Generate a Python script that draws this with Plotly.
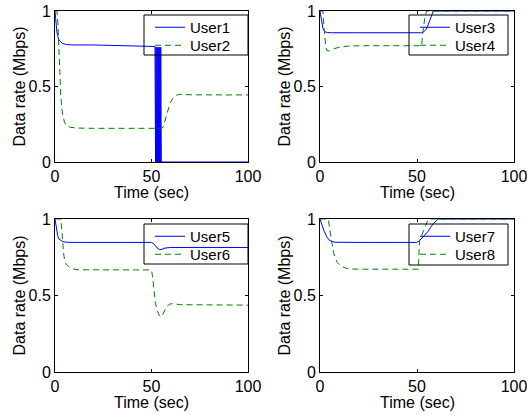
import plotly.graph_objects as go

W, H = 527, 415

# ---- data (time in sec, rate in Mbps) ----
t_user1 = [0, 0.5, 1, 1.5, 2, 3, 4, 6, 9, 20, 51.6, 51.8, 52.1, 52.3, 52.6, 52.8, 53.1, 53.3,
           53.6, 53.8, 54.1, 54.3, 54.6, 54.8, 55.1, 55.4, 60, 100]
u_user1 = [1.0, 0.92, 0.86, 0.83, 0.81, 0.795, 0.785, 0.778, 0.775, 0.775, 0.765, 0.765, 0.0, 0.76,
           0.0, 0.76, 0.0, 0.76, 0.0, 0.76, 0.0, 0.76, 0.0, 0.76, 0.0, 0.0, 0.0, 0.0]

t_user2 = [0, 1, 1.5, 2, 2.5, 3, 3.5, 4, 5, 6, 8, 11, 20, 55, 56, 57, 58, 59.6, 61, 62, 63.5, 65.6, 70, 100]
u_user2 = [1.0, 1.0, 0.92, 0.75, 0.56, 0.44, 0.36, 0.31, 0.26, 0.24, 0.23, 0.225, 0.223, 0.223,
           0.23, 0.27, 0.32, 0.39, 0.42, 0.437, 0.445, 0.448, 0.445, 0.444]

t_user3 = [0, 0.5, 1, 1.5, 2, 3, 4, 6, 20, 52.4, 53.5, 54.5, 55.5, 56.5, 57.5, 58.4, 60, 100]
u_user3 = [1.0, 0.95, 0.91, 0.885, 0.87, 0.86, 0.857, 0.856, 0.856, 0.856, 0.862, 0.875, 0.9,
           0.935, 0.97, 1.0, 1.0, 1.0]

t_user4 = [0, 1.5, 2, 2.5, 3, 3.5, 4.3, 5, 7, 10, 14, 20, 52.4, 52.9, 53.5, 54.2, 55, 60, 100]
u_user4 = [1.0, 1.0, 0.9, 0.81, 0.76, 0.74, 0.735, 0.738, 0.75, 0.76, 0.767, 0.77, 0.77, 0.85,
           0.92, 0.97, 1.0, 1.0, 1.0]

t_user5 = [0, 0.5, 1, 1.5, 2, 3, 4, 6, 10, 50, 51, 52, 53, 54.3, 55.5, 57, 60, 70, 100]
u_user5 = [1.0, 0.95, 0.91, 0.885, 0.87, 0.858, 0.852, 0.848, 0.847, 0.847, 0.84, 0.825, 0.81,
           0.80, 0.802, 0.81, 0.814, 0.814, 0.814]

t_user6 = [0, 3, 3.5, 4, 4.5, 5, 6, 7, 9, 12, 20, 50, 50.5, 51, 51.5, 52, 53, 54, 55.2, 56,
           57, 58, 59.5, 61, 65, 100]
u_user6 = [1.0, 1.0, 0.93, 0.84, 0.77, 0.73, 0.70, 0.69, 0.675, 0.668, 0.667, 0.667, 0.63, 0.56,
           0.50, 0.45, 0.40, 0.37, 0.36, 0.38, 0.41, 0.43, 0.444, 0.447, 0.44, 0.437]

t_user7 = [0, 1, 2, 3.4, 4.5, 6, 8, 20, 49.8, 51, 52.4, 54, 55.8, 57, 58.4, 60, 61, 70, 100]
u_user7 = [1.0, 0.96, 0.925, 0.886, 0.865, 0.853, 0.848, 0.847, 0.847, 0.855, 0.875, 0.895,
           0.92, 0.945, 0.97, 0.99, 1.0, 1.0, 1.0]

t_user8 = [0, 4.3, 5, 6, 7, 8, 9, 10.5, 12.9, 16, 20, 50.7, 51, 51.3, 52, 53, 54, 55, 55.8, 60, 100]
u_user8 = [1.0, 1.0, 0.93, 0.85, 0.78, 0.74, 0.715, 0.695, 0.68, 0.673, 0.672, 0.672, 0.75,
           0.86, 0.88, 0.91, 0.94, 0.97, 1.0, 1.0, 1.0]

panels = [
    (("User1", t_user1, u_user1), ("User2", t_user2, u_user2)),
    (("User3", t_user3, u_user3), ("User4", t_user4, u_user4)),
    (("User5", t_user5, u_user5), ("User6", t_user6, u_user6)),
    (("User7", t_user7, u_user7), ("User8", t_user8, u_user8)),
]

x_ticks = [0, 50, 100]
x_tick_text = ["0", "50", "100"]
y_ticks = [0, 0.5, 1]
y_tick_text = ["0", "0.5", "1"]

# ---- layout geometry (pixels) ----
cols = [(55, 248), (320, 514)]
rows = [(11, 162), (219, 372)]
# legend boxes (left, top, right, bottom) in pixels
legend_boxes = [(144, 15, 248, 55), (409, 15, 508, 55), (144, 224, 248, 264), (409, 224, 508, 265)]
legend_rows = [[bt + 12, bt + 30] for (_, bt, _, _) in legend_boxes]

FONT = "Liberation Sans, Arial, sans-serif"
BLUE = "#0000FF"
GREEN = "#008000"

fig = go.Figure()
layout = dict(
    template="none",
    width=W, height=H,
    margin=dict(l=0, r=0, t=0, b=0, autoexpand=False),
    paper_bgcolor="white", plot_bgcolor="rgba(0,0,0,0)",
    font=dict(family=FONT, size=16, color="black"),
    showlegend=True,
)
annotations = []
shapes = []

for i, (s_solid, s_dash) in enumerate(panels):
    r, c = divmod(i, 2)
    x0, x1 = cols[c]
    y0, y1 = rows[r]
    xa = "xaxis" if i == 0 else f"xaxis{i+1}"
    ya = "yaxis" if i == 0 else f"yaxis{i+1}"
    xref = "x" if i == 0 else f"x{i+1}"
    yref = "y" if i == 0 else f"y{i+1}"

    axis_common = dict(showline=True, linecolor="black", linewidth=1, mirror="allticks",
                       ticks="inside", ticklen=3, tickcolor="black", showgrid=False,
                       zeroline=False, automargin=False, ticklabeloverflow="allow",
                       tickfont=dict(family=FONT, size=16, color="black"))
    layout[xa] = dict(domain=[x0 / W, x1 / W], range=[0, 100], anchor=yref,
                      tickvals=x_ticks, ticktext=x_tick_text, **axis_common)
    layout[ya] = dict(domain=[1 - y1 / H, 1 - y0 / H], range=[0, 1], anchor=xref,
                      tickvals=y_ticks, ticktext=y_tick_text, **axis_common)

    bl, bt, br, bb = legend_boxes[i]
    shapes.append(dict(type="rect", xref="paper", yref="paper", layer="above",
                       x0=bl / W, x1=br / W, y0=1 - bb / H, y1=1 - bt / H,
                       fillcolor="rgba(0,0,0,0)", line=dict(color="black", width=1)))

    for k, (name, t, u) in enumerate((s_solid, s_dash)):
        leg = f"legend{9 - (2 * i + k)}"
        line = dict(color=BLUE, width=1) if k == 0 else dict(color=GREEN, width=1, dash="6px,4px")
        fig.add_trace(go.Scatter(x=t, y=u, mode="lines", name=name, xaxis=xref, yaxis=yref,
                                 legend=leg, line=line))
        layout[leg] = dict(x=(bl + 6) / W, y=1 - (legend_rows[i][k] - 16) / H,
                           xanchor="left", yanchor="top",
                           bgcolor="rgba(0,0,0,0)", borderwidth=0,
                           font=dict(family=FONT, size=15, color="black"))

    annotations.append(dict(text="Time (sec)", xref="paper", yref="paper",
                            x=(x0 + x1) / 2 / W, y=1 - (y1 + 30) / H,
                            showarrow=False, xanchor="center", yanchor="middle",
                            font=dict(family=FONT, size=16, color="black")))
    annotations.append(dict(text="Data rate (Mbps)", xref="paper", yref="paper",
                            x=(x0 - 36) / W, y=1 - (y0 + y1) / 2 / H, textangle=-90,
                            showarrow=False, xanchor="center", yanchor="middle",
                            font=dict(family=FONT, size=16, color="black")))

layout["annotations"] = annotations
layout["shapes"] = shapes
fig.update_layout(**layout)
fig.write_html("out.html", config={"displayModeBar": False},
               post_script="document.body.style.margin='0px';document.body.style.padding='0px';")
